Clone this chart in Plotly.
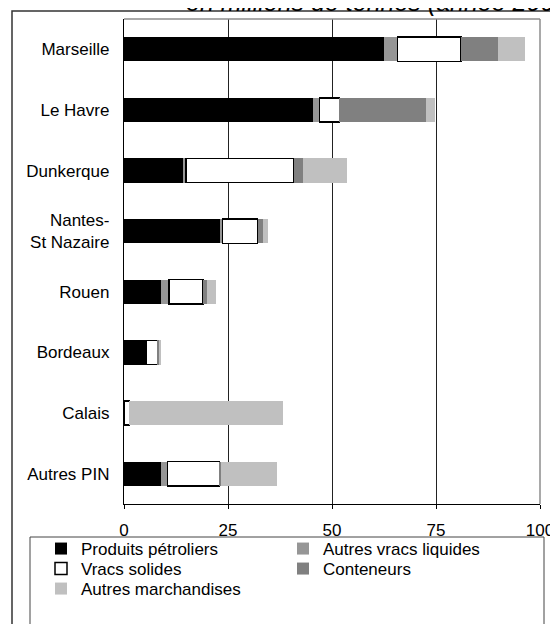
import plotly.graph_objects as go

ports = ["Marseille", "Le Havre", "Dunkerque", "Nantes-<br>St Nazaire", "Rouen",
         "Bordeaux", "Calais", "Autres PIN"]
produits_petroliers = [62.5, 45.5, 14.1, 23.1, 8.8, 5.1, 0.0, 9.0]
autres_vracs_liquides = [3.3, 1.5, 0.8, 0.6, 2.0, 0.2, 0.0, 1.4]
vracs_solides = [15.2, 4.8, 26.0, 8.4, 8.2, 2.8, 1.3, 12.6]
conteneurs = [8.9, 20.8, 2.1, 1.4, 1.0, 0.4, 0.0, 0.3]
autres_marchandises = [6.5, 2.2, 10.6, 1.1, 2.1, 0.4, 37.0, 13.5]
x_ticks = [0, 25, 50, 75, 100]
title_text = "en millions de tonnes (année 2005)"

# (name, values, fill, outline, outline width, legend row)
series = [
    ("Produits pétroliers", produits_petroliers, "#000000", "#000000", 0, "legend"),
    ("Autres vracs liquides", autres_vracs_liquides, "#969696", "#969696", 0, "legend"),
    ("Vracs solides", vracs_solides, "#FFFFFF", "#000000", 1.5, "legend2"),
    ("Conteneurs", conteneurs, "#808080", "#808080", 0, "legend2"),
    ("Autres marchandises", autres_marchandises, "#C0C0C0", "#C0C0C0", 0, "legend3"),
]

FONT = "Arial, 'Liberation Sans', sans-serif"
FS = 17

fig = go.Figure()
for name, vals, fill, line, lw, leg in series:
    fig.add_trace(go.Bar(
        y=ports, x=vals, name=name, orientation="h", legend=leg,
        marker=dict(color=fill, line=dict(color=line, width=lw)),
    ))

W, H = 558, 624
OFF = 8  # page body margin
PL, PR, PT, PB = 124, 540, 19, 504
L, R, T, B = PL - OFF, W - (PR - OFF), PT - OFF, H - (PB - OFF)
pw = W - L - R
ph = H - T - B

def px_x(page_px):
    return (page_px - OFF - L) / pw

def px_y(page_py):
    return 1 - (page_py - OFF - T) / ph

def legend_row(top_page):
    return dict(
        orientation="h", x=px_x(41), y=px_y(top_page),
        xanchor="left", yanchor="top",
        entrywidth=197, entrywidthmode="pixels",
        traceorder="normal",
        font=dict(family=FONT, size=FS, color="black"),
        bgcolor="rgba(0,0,0,0)", borderwidth=0,
        itemclick=False, itemdoubleclick=False,
    )

fig.update_layout(
    width=W, height=H,
    margin=dict(l=L, r=R, t=T, b=B, pad=0, autoexpand=False),
    paper_bgcolor="white", plot_bgcolor="white",
    barmode="stack", bargap=0.6,
    font=dict(family=FONT, size=FS, color="black"),
    showlegend=True,
    legend=legend_row(531),
    legend2=legend_row(551),
    legend3=legend_row(571),
    xaxis=dict(
        range=[0, 100], tickvals=x_ticks, ticktext=[str(v) for v in x_ticks],
        showgrid=True, gridcolor="#222222", gridwidth=1,
        showline=True, linecolor="black", linewidth=1.3,
        ticks="outside", ticklen=4, tickcolor="black", tickwidth=1,
        zeroline=False, ticklabelstandoff=6,
        tickfont=dict(family=FONT, size=FS, color="black"),
        fixedrange=True, automargin=False,
    ),
    yaxis=dict(
        categoryorder="array", categoryarray=ports, autorange="reversed",
        showgrid=False, showline=True, linecolor="black", linewidth=1.3,
        ticks="", ticklabelstandoff=10,
        tickfont=dict(family=FONT, size=FS, color="black"),
        fixedrange=True, automargin=False,
    ),
    shapes=[
        dict(type="line", xref="paper", yref="paper", x0=0, x1=1, y0=1, y1=1,
             line=dict(color="#8c8c8c", width=1.5), layer="above"),
        dict(type="line", xref="paper", yref="paper", x0=1, x1=1, y0=0, y1=1,
             line=dict(color="#8c8c8c", width=1.5), layer="above"),
        dict(type="rect", xref="paper", yref="paper",
             x0=px_x(12), x1=px_x(620),
             y0=px_y(720), y1=px_y(11),
             line=dict(color="#333333", width=1.5), fillcolor="rgba(0,0,0,0)",
             layer="below"),
        dict(type="rect", xref="paper", yref="paper",
             x0=px_x(30), x1=px_x(544),
             y0=px_y(720), y1=px_y(537),
             line=dict(color="#444444", width=1), fillcolor="rgba(0,0,0,0)",
             layer="below"),
    ],
    annotations=[
        dict(text=title_text, xref="paper", yref="paper",
             x=px_x(184), y=px_y(18),
             xanchor="left", yanchor="bottom", showarrow=False,
             font=dict(family=FONT, size=25, color="black", style="italic")),
    ],
)

fig.write_html("out.html")
